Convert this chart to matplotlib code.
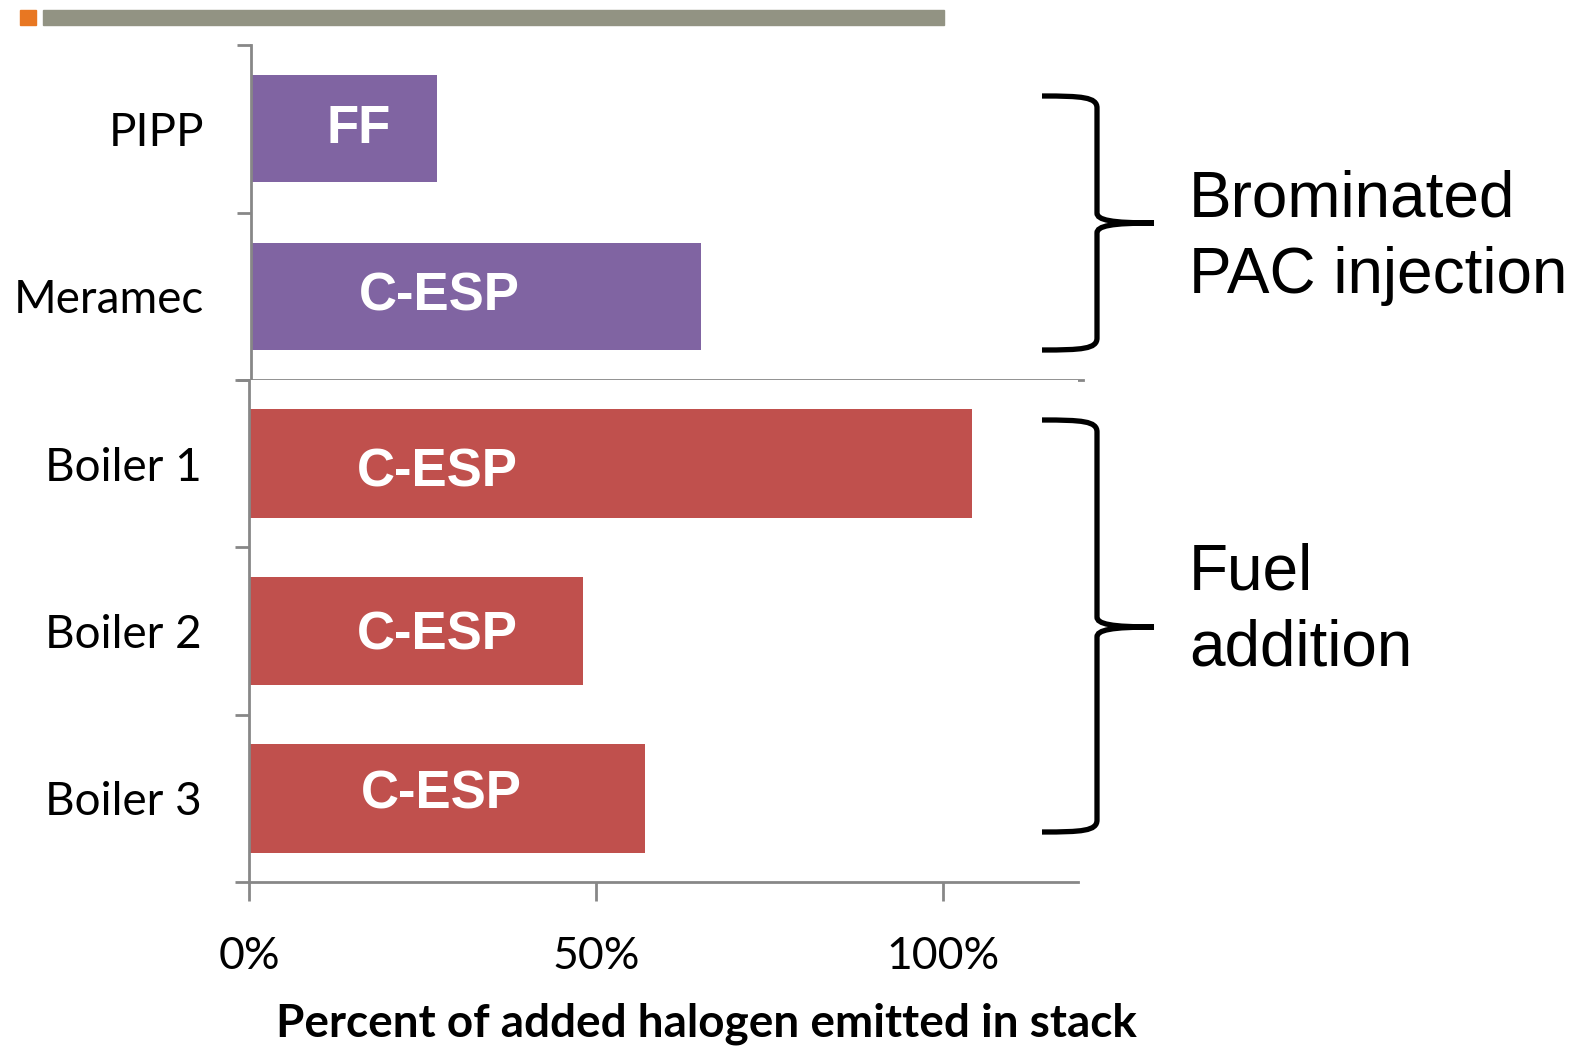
import matplotlib
matplotlib.use('Agg')
import numpy as np
from matplotlib import pyplot as plt
from matplotlib.patches import Rectangle, PathPatch
from matplotlib.path import Path

# data
top_names = ['PIPP', 'Meramec']
top_values = [26.7, 64.6]
top_tags = ['FF', 'C-ESP']

bottom_names = ['Boiler 1', 'Boiler 2', 'Boiler 3']
bottom_values = [104.2, 48.1, 57.1]
bottom_tags = ['C-ESP', 'C-ESP', 'C-ESP']

x_ticks = [0, 50, 100]
x_ticklabels = ['0%', '50%', '100%']
x_label = 'Percent of added halogen emitted in stack'

PURPLE = '#8064A2'
RED = '#C0504D'
AXIS_GREY = '#878787'
W, H = 1574, 1048
XMAX = 119.5

fig = plt.figure(figsize=(W / 100, H / 100), dpi=100)


def px(x, y):
    """Pixel position (top-left origin) -> figure fraction."""
    return x / W, 1 - y / H


def style_axes(ax, n):
    ax.set_xlim(0, XMAX)
    ax.set_ylim(n - 0.5, -0.5)
    for s in ['top', 'right']:
        ax.spines[s].set_visible(False)
    for s in ['left', 'bottom']:
        ax.spines[s].set_color(AXIS_GREY)
        ax.spines[s].set_linewidth(2.0)
    ax.set_yticks(range(n))
    ax.set_yticks(np.arange(n + 1) - 0.5, minor=True)
    ax.tick_params(axis='y', which='major', length=0, pad=34)
    ax.tick_params(axis='y', which='minor', length=10, width=2.0,
                   color=AXIS_GREY)


def draw_bars(ax, names, values, tags, color, height, tag_x, tag_dy):
    yy = np.arange(len(names))
    ax.barh(yy, values, height=height, color=color, edgecolor='none')
    style_axes(ax, len(names))
    ax.set_yticklabels(names)
    for lab in ax.get_yticklabels():
        lab.set_fontfamily('Lato')
        lab.set_fontsize(33)
    for y, t, tx, dy in zip(yy, tags, tag_x, tag_dy):
        ax.text(tx, y + dy, t, color='white', fontsize=38,
                fontweight='bold', family='Liberation Sans',
                ha='center', va='center')


# top panel: brominated PAC injection
l, b = px(251, 380)
ax1 = fig.add_axes([l, b, (1083 - 251) / W, (380 - 45) / H])
draw_bars(ax1, top_names, top_values, top_tags, PURPLE, 0.64,
          [15.4, 27.1], [0.0, 0.0])
ax1.tick_params(axis='x', length=0, labelbottom=False)

# bottom panel: fuel addition
l, b = px(249, 882)
ax2 = fig.add_axes([l, b, (1078 - 249) / W, (882 - 380) / H])
draw_bars(ax2, bottom_names, bottom_values, bottom_tags, RED, 0.65,
          [27.1, 27.1, 27.7], [0.055, 0.025, -0.02])
ax2.set_xticks(x_ticks)
ax2.set_xticklabels(x_ticklabels)
ax2.tick_params(axis='x', length=14, width=2.0, color=AXIS_GREY, pad=25)
for lab in ax2.get_xticklabels():
    lab.set_fontfamily('Lato')
    lab.set_fontsize(32)

fx, fy = px(706, 1024)
fig.text(fx, fy, x_label, family='Lato', fontweight='bold', fontsize=33,
         ha='center', va='center')

# header strip
x0, y0 = px(20, 25)
fig.patches.append(Rectangle((x0, y0), 16 / W, 15 / H, color='#E87722',
                             transform=fig.transFigure, figure=fig))
x0, y0 = px(43, 25)
fig.patches.append(Rectangle((x0, y0), (944 - 43) / W, 15 / H,
                             color='#929383', transform=fig.transFigure,
                             figure=fig))


def brace(x0, xm, xt, ytop, ytip, ybot):
    pts = [
        (x0, ytop), (x0 + 40, ytop), (xm, ytop + 1), (xm, ytop + 12),
        (xm, ytip - 10),
        (xm, ytip - 3), (xm + 14, ytip), (xt, ytip),
        (xm + 14, ytip), (xm, ytip + 3), (xm, ytip + 10),
        (xm, ybot - 12),
        (xm, ybot - 1), (x0 + 40, ybot), (x0, ybot),
    ]
    codes = [Path.MOVETO, Path.CURVE4, Path.CURVE4, Path.CURVE4,
             Path.LINETO,
             Path.CURVE4, Path.CURVE4, Path.CURVE4,
             Path.CURVE4, Path.CURVE4, Path.CURVE4,
             Path.LINETO,
             Path.CURVE4, Path.CURVE4, Path.CURVE4]
    verts = [px(x, y) for x, y in pts]
    fig.patches.append(PathPatch(Path(verts, codes), facecolor='none',
                                 edgecolor='black', linewidth=3.8,
                                 transform=fig.transFigure, figure=fig))


brace(1042, 1097, 1154, 96, 223, 350)
brace(1042, 1097, 1154, 420, 627, 832)

for txt, (x, y) in [('Brominated', (1189, 217)),
                    ('PAC injection', (1189, 293)),
                    ('Fuel', (1189, 590)),
                    ('addition', (1189, 665))]:
    fx, fy = px(x, y)
    fig.text(fx, fy, txt, family='Liberation Sans', fontsize=46,
             ha='left', va='baseline')

fig.savefig('out.png', dpi=100)
